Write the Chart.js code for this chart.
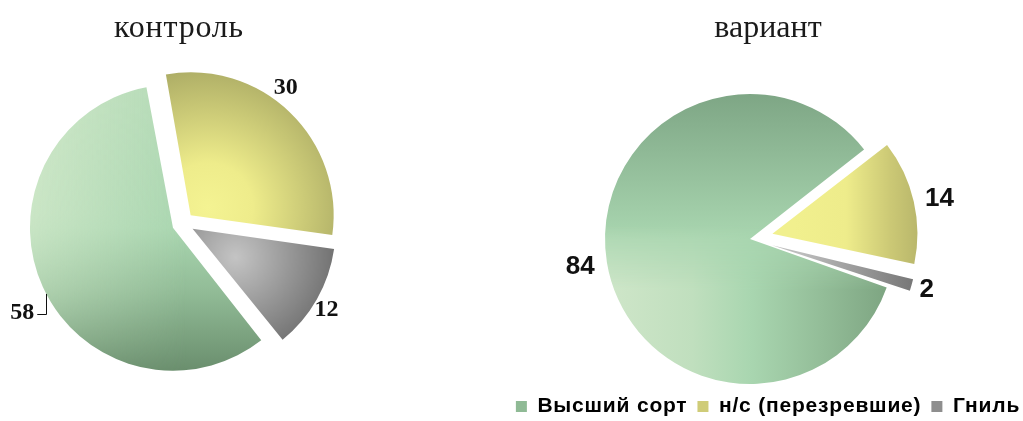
<!DOCTYPE html>
<html><head><meta charset="utf-8">
<script src="https://cdn.jsdelivr.net/npm/chart.js@4/dist/chart.umd.min.js"></script>
<style>
html,body{margin:0;padding:0;background:#fff;width:1023px;height:421px;overflow:hidden;position:relative}
#wrapL{position:absolute;left:0;top:0;width:358px;height:421px}
#wrapR{position:absolute;left:502px;top:0;width:532px;height:427px}
</style></head><body>
<div id="wrapL"><canvas id="cL"></canvas></div>
<div id="wrapR"><canvas id="cR"></canvas></div>
<script>
// ---- data ----
const categories = ['Высший сорт', 'н/с (перезревшие)', 'Гниль'];
const controlValues = [58, 30, 12];
const variantValues = [84, 14, 2];
const chartTitles = ['контроль', 'вариант'];

// ---- style ----
const legendColors = ['#8fba95', '#cfcc78', '#8e8e8e'];
const fallbackColors = ['#a9d6b0', '#dcd980', '#999999'];

// Chart.js v4 grows the radius of an offset arc; keep exploded slices at the true radius
const origArcDraw = Chart.ArcElement.prototype.draw;
Chart.ArcElement.prototype.draw = function (ctx) {
  const off = (this.options.offset || 0) / 4;
  const fix = 1 - Math.sin(Math.min(Math.PI, this.circumference || 0));
  const saved = this.outerRadius;
  this.outerRadius = saved - off * fix;
  origArcDraw.call(this, ctx);
  this.outerRadius = saved;
};

function grad(g, stops) { stops.forEach(s => g.addColorStop(s[0], s[1])); return g; }
function overlay(W, H, paintFn, maskFn) {
  const o = document.createElement('canvas'); o.width = W; o.height = H;
  const oc = o.getContext('2d');
  paintFn(oc);
  oc.globalCompositeOperation = 'destination-in';
  maskFn(oc);
  return o;
}

const painters = {
  L: [
    (c, W, H, cx, cy, r) => {
      c.fillStyle = grad(c.createLinearGradient(0, cy - r, 0, cy + r), [[0, '#b3dab6'], [0.5, '#a9d6b0'], [0.72, '#92bc97'], [1, '#6a8e6d']]);
      c.fillRect(0, 0, W, H);
      const o = overlay(W, H, oc => {
        oc.fillStyle = grad(oc.createLinearGradient(cx - r, 0, cx + 0.1 * r, 0), [[0, 'rgba(206,231,200,1)'], [1, 'rgba(206,231,200,0)']]);
        oc.fillRect(0, 0, W, H);
      }, oc => {
        oc.fillStyle = grad(oc.createLinearGradient(0, cy - r, 0, cy + r), [[0, 'rgba(0,0,0,1)'], [0.45, 'rgba(0,0,0,0.9)'], [1, 'rgba(0,0,0,0.12)']]);
        oc.fillRect(0, 0, W, H);
      });
      c.drawImage(o, 0, 0);
    },
    (c, W, H, cx, cy, r) => {
      c.fillStyle = grad(c.createRadialGradient(cx + 0.12 * r, cy - 0.05 * r, 0, cx + 0.12 * r, cy - 0.05 * r, 1.05 * r), [[0, '#f4f392'], [0.3, '#eeec8b'], [1, '#a7a762']]);
      c.fillRect(0, 0, W, H);
    },
    (c, W, H, cx, cy, r) => {
      c.fillStyle = grad(c.createRadialGradient(cx + 0.3 * r, cy + 0.2 * r, 0, cx + 0.3 * r, cy + 0.2 * r, 0.88 * r), [[0, '#c4c4c4'], [1, '#5c5c5c']]);
      c.fillRect(0, 0, W, H);
    }
  ],
  R: [
    (c, W, H, cx, cy, r) => {
      c.fillStyle = grad(c.createLinearGradient(0, cy - r, 0, cy), [[0, '#7ea685'], [1, '#a9d6b0']]);
      c.fillRect(0, 0, W, H);
      const o = overlay(W, H, oc => {
        oc.fillStyle = grad(oc.createLinearGradient(cx - r, 0, cx + r, 0), [[0, '#cfe6c9'], [0.3, '#c0dfbe'], [0.5, '#a9d6b0'], [0.75, '#93bd98'], [1, '#7ba27f']]);
        oc.fillRect(0, 0, W, H);
      }, oc => {
        oc.fillStyle = grad(oc.createLinearGradient(0, cy - 0.1 * r, 0, cy + 0.35 * r), [[0, 'rgba(0,0,0,0)'], [1, 'rgba(0,0,0,1)']]);
        oc.fillRect(0, 0, W, H);
      });
      c.drawImage(o, 0, 0);
    },
    (c, W, H, cx, cy, r) => {
      c.fillStyle = grad(c.createLinearGradient(cx + 0.15 * r, 0, cx + 1.18 * r, 0), [[0, '#f1f08e'], [0.35, '#eeec8b'], [0.65, '#cbc875'], [1, '#a8a762']]);
      c.fillRect(0, 0, W, H);
    },
    (c, W, H, cx, cy, r) => {
      c.fillStyle = grad(c.createLinearGradient(cx + 0.2 * r, 0, cx + 1.14 * r, 0), [[0, '#bdbdbd'], [1, '#686868']]);
      c.fillRect(0, 0, W, H);
    }
  ]
};

const patternCache = {};
function sliceFill(key) {
  return (context) => {
    const chart = context.chart;
    const i = context.dataIndex;
    const area = chart.chartArea;
    if (!area || i === undefined) return fallbackColors[i || 0];
    const id = key + i + '_' + chart.width + 'x' + chart.height;
    if (!patternCache[id]) {
      const W = chart.width, H = chart.height;
      const off = document.createElement('canvas'); off.width = W; off.height = H;
      const oc = off.getContext('2d');
      const cx = (area.left + area.right) / 2, cy = (area.top + area.bottom) / 2;
      const r = chart.options.radius;
      painters[key][i](oc, W, H, cx, cy, r);
      patternCache[id] = chart.ctx.createPattern(off, 'no-repeat');
    }
    return patternCache[id];
  };
}

// value labels (arcs are translated by offset/4 when drawn)
const sliceLabelPlugin = {
  id: 'sliceLabels',
  afterDatasetsDraw(chart, args, opts) {
    const meta = chart.getDatasetMeta(0);
    const ctx = chart.ctx;
    ctx.save();
    ctx.font = opts.font;
    ctx.fillStyle = opts.color;
    ctx.strokeStyle = opts.color;
    ctx.textAlign = 'center';
    ctx.textBaseline = 'middle';
    meta.data.forEach((arc, i) => {
      const p = arc.getProps(['x', 'y', 'startAngle', 'endAngle', 'outerRadius'], true);
      const off = (arc.options.offset || 0) / 4;
      const mid = (p.startAngle + p.endAngle) / 2;
      const cx = p.x + Math.cos(mid) * off, cy = p.y + Math.sin(mid) * off;
      const a = mid + opts.nudge[i] * Math.PI / 180;
      const d = p.outerRadius + opts.gap[i];
      const lx = cx + Math.cos(a) * d, ly = cy + Math.sin(a) * d;
      const txt = String(chart.data.datasets[0].data[i]);
      ctx.fillText(txt, lx, ly);
      if (opts.leader[i]) {
        const w = ctx.measureText(txt).width;
        const ex = cx + Math.cos(a) * p.outerRadius, ey = cy + Math.sin(a) * p.outerRadius;
        ctx.lineWidth = 1;
        ctx.beginPath();
        ctx.moveTo(lx + w / 2 + 3, Math.round(ly + 1) + 0.5);
        ctx.lineTo(Math.round(ex - 2) + 0.5, Math.round(ly + 1) + 0.5);
        ctx.lineTo(Math.round(ex - 2) + 0.5, ey - 4);
        ctx.stroke();
      }
    });
    ctx.restore();
  }
};

// letter spacing for title / legend text boxes, and horizontal shift of the pie centre
function makeLayoutPlugin(spec, dx) {
  return {
    id: 'layoutTweaks',
    afterInit(chart) {
      Object.keys(spec).forEach(name => {
        const box = chart[name];
        if (!box) return;
        ['fit', 'draw'].forEach(m => {
          if (typeof box[m] !== 'function') return;
          const orig = box[m].bind(box);
          box[m] = function (...a) {
            const ctx = chart.ctx;
            const prev = ctx.letterSpacing;
            ctx.letterSpacing = spec[name];
            try { return orig(...a); } finally { ctx.letterSpacing = prev; }
          };
        });
      });
    },
    afterLayout(chart) {
      chart.chartArea.left += dx;
      chart.chartArea.right += dx;
    }
  };
}

function makePie(canvasId, key, values, title, cfg) {
  return new Chart(document.getElementById(canvasId), {
    type: 'pie',
    data: {
      labels: categories,
      datasets: [{
        data: values,
        backgroundColor: sliceFill(key),
        borderWidth: 0,
        offset: cfg.offsets,
        hoverOffset: 0,
        clip: false
      }]
    },
    options: {
      responsive: true,
      maintainAspectRatio: false,
      animation: false,
      rotation: cfg.rotation,
      radius: cfg.radius,
      layout: { padding: cfg.padding },
      events: [],
      plugins: {
        tooltip: { enabled: false },
        title: {
          display: true, text: title, color: '#1a1a1a',
          font: { family: 'Liberation Serif', size: 32, weight: 'normal' },
          padding: cfg.titlePadding
        },
        legend: cfg.legend,
        sliceLabels: cfg.labels
      }
    },
    plugins: [sliceLabelPlugin, makeLayoutPlugin(cfg.spacing, cfg.shift)]
  });
}

const chartL = makePie('cL', 'L', controlValues, chartTitles[0], {
  offsets: [44, 44, 44], rotation: 141.2, radius: 143,
  padding: { left: 0, right: 0, top: 0, bottom: 22 }, shift: 4,
  titlePadding: { top: 9, bottom: 0 },
  legend: { display: false },
  spacing: { titleBlock: '0.8px' },
  labels: { font: 'bold 24px "Liberation Serif"', color: '#111', gap: [30, 15.6, 13.6], nudge: [-5, -7.2, 1.6], leader: [true, false, false] }
});

const chartR = makePie('cR', 'R', variantValues, chartTitles[1], {
  offsets: [0, 92, 92], rotation: 109.5, radius: 145,
  padding: { left: 0, right: 0, top: 0, bottom: 0 }, shift: -18,
  titlePadding: { top: 9, bottom: 44.6 },
  spacing: { legend: '0.8px' },
  legend: {
    display: true, position: 'bottom',
    labels: {
      boxWidth: 11, boxHeight: 11, padding: 10, color: '#222',
      font: { family: 'Liberation Sans', size: 21, weight: 'bold' },
      generateLabels: () => categories.map((t, i) => ({ text: t, fillStyle: legendColors[i], strokeStyle: legendColors[i], lineWidth: 0, hidden: false, index: i }))
    }
  },
  labels: { font: 'bold 26px "Liberation Sans"', color: '#111', gap: [27, 25.6, 16], nudge: [0, 1.1, 0.2], leader: [false, false, false] }
});
</script>
</body></html>
